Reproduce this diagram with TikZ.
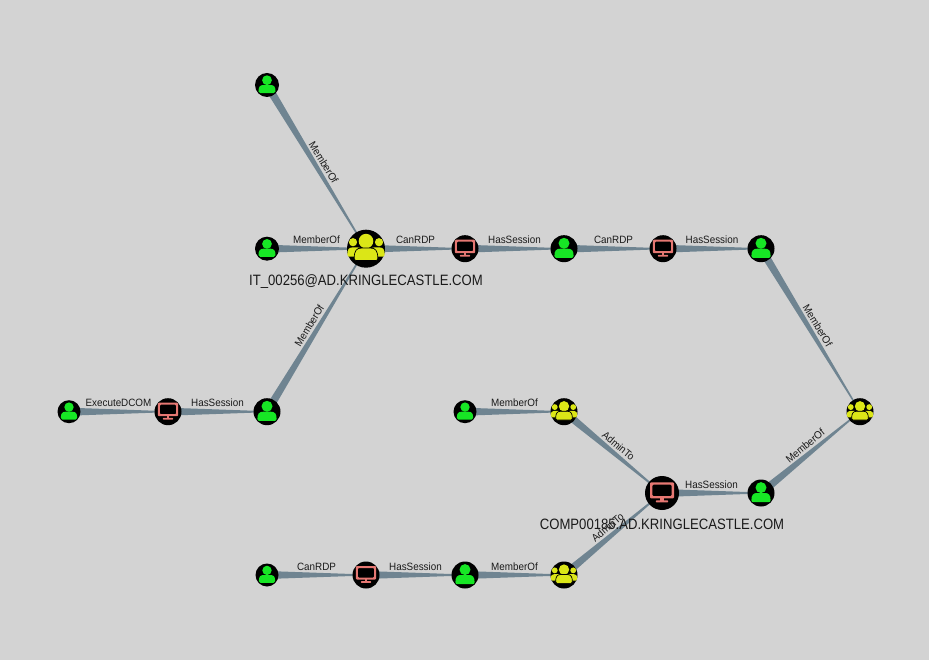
\documentclass[tikz,border=0pt]{standalone}
\usepackage{fontspec}
\setmainfont{Liberation Sans}
\newfontfamily\narrowlab[FakeStretch=0.93]{Liberation Sans}
\newfontfamily\narrowbig[FakeStretch=0.875]{Liberation Sans}
\usetikzlibrary{calc}
\definecolor{bgc}{HTML}{D3D3D3}
\definecolor{edgec}{HTML}{6F8491}
\definecolor{userc}{HTML}{17E625}
\definecolor{groupc}{HTML}{DBE617}
\definecolor{compc}{HTML}{E67873}
\definecolor{textc}{HTML}{1A1A1A}
\newcommand{\bodypath}[4]{% cx, top, halfwidth, bottom
  ({#1-#3},{#4-2}) .. controls ({#1-#3},{#2+.2*(#4-#2)}) and ({#1-.8*#3},#2) .. ({#1-.4*#3},#2) -- ({#1+.4*#3},#2) .. controls ({#1+.8*#3},#2) and ({#1+#3},{#2+.2*(#4-#2)}) .. ({#1+#3},{#4-2}) .. controls ({#1+#3},{#4-.7}) and ({#1+#3-1},#4) .. ({#1+#3-2},#4) -- ({#1-#3+2},#4) .. controls ({#1-#3+1},#4) and ({#1-#3},{#4-.7}) .. ({#1-#3},{#4-2}) -- cycle}
\tikzset{
  x=1pt,y=-1pt,
  dot/.style={circle,inner sep=0pt,minimum size=#1},
  edgelab/.style={sloped,above,inner sep=4.4pt,text=textc,font=\narrowlab\fontsize{10.6}{12}\selectfont},
  biglab/.style={inner sep=0pt,text=textc,font=\narrowbig\fontsize{15}{17}\selectfont},
  usericon/.pic={
    \fill[userc] (0,-5.4) circle[radius=5.5];
    \fill[userc] \bodypath{0}{0}{9.6}{9.2};
  },
  groupicon/.pic={
    \fill[groupc] (-13,-6.5) circle[radius=4.1] (13,-6.5) circle[radius=4.1];
    \fill[groupc] \bodypath{-11}{-1.2}{7.6}{8} \bodypath{11}{-1.2}{7.6}{8};
    \fill[groupc] (0,-7.6) circle[radius=7.3];
    \filldraw[groupc,draw=black,line width=.7pt] \bodypath{0}{-.6}{11.8}{11.8};
  },
  compicon/.pic={
    \fill[compc,even odd rule,rounded corners=1pt] (-12,-10.7) rectangle (12,5.4) (-9.6,-8.3) rectangle (9.6,3);
    \fill[compc] (-1.6,5) rectangle (1.6,8);
    \fill[compc,rounded corners=.6pt] (-6.2,7.4) rectangle (6.2,9.3);
  },
}
\newcommand{\wedgeedge}[3]{%
  \fill[edgec] ($(#1.center)!4pt!90:(#2.center)$) -- ($(#1.center)!4pt!-90:(#2.center)$)
     -- ($(#2.center)!.5pt!90:(#1.center)$) -- ($(#2.center)!.5pt!-90:(#1.center)$) -- cycle;
  \path (#1.center) -- node[edgelab]{#3} (#2.center);}
\begin{document}
\begin{tikzpicture}
\useasboundingbox (0,0) rectangle (929,660);
\fill[bgc] (0,0) rectangle (929,660);
% named node positions; discs and icons are painted after the edges
\node[dot=24pt] (u1) at (267,85) {};
\node[dot=24pt] (u2) at (267,248.7) {};
\node[dot=27pt] (u3) at (267,411.7) {};
\node[dot=23pt] (u4) at (69,411.7) {};
\node[dot=23pt] (u5) at (465,411.7) {};
\node[dot=23pt] (u6) at (267,575) {};
\node[dot=27pt] (u7) at (465,575) {};
\node[dot=27pt] (u8) at (564,248.7) {};
\node[dot=27pt] (u9) at (761,248.7) {};
\node[dot=27pt] (u10) at (761,493) {};
\node[dot=27pt] (c1) at (465,248.7) {};
\node[dot=27pt] (c2) at (663,248.7) {};
\node[dot=27pt] (c3) at (168,411.7) {};
\node[dot=27pt] (c4) at (366,575) {};
\node[dot=34pt] (c5) at (662,493) {};
\node[dot=38pt] (g1) at (366,248.7) {};
\node[dot=27pt] (g2) at (564,411.7) {};
\node[dot=27pt] (g3) at (564,575) {};
\node[dot=27pt] (g4) at (860,411.7) {};
% edges
\wedgeedge{u1}{g1}{MemberOf}
\wedgeedge{u2}{g1}{MemberOf}
\wedgeedge{u3}{g1}{MemberOf}
\wedgeedge{g1}{c1}{CanRDP}
\wedgeedge{c1}{u8}{HasSession}
\wedgeedge{u8}{c2}{CanRDP}
\wedgeedge{c2}{u9}{HasSession}
\wedgeedge{u9}{g4}{MemberOf}
\wedgeedge{u10}{g4}{MemberOf}
\wedgeedge{c5}{u10}{HasSession}
\wedgeedge{g2}{c5}{AdminTo}
\wedgeedge{g3}{c5}{AdminTo}
\wedgeedge{u7}{g3}{MemberOf}
\wedgeedge{c4}{u7}{HasSession}
\wedgeedge{u6}{c4}{CanRDP}
\wedgeedge{u5}{g2}{MemberOf}
\wedgeedge{u4}{c3}{ExecuteDCOM}
\wedgeedge{c3}{u3}{HasSession}
% visible discs and icons
\foreach \n/\d in {u1/24,u2/24,u3/27,u4/23,u5/23,u6/23,u7/27,u8/27,u9/27,u10/27}{
  \fill[black] (\n.center) circle[radius=\d/2];
  \pic[scale=\d/27] at (\n.center) {usericon};}
\foreach \n/\d in {c1/27,c2/27,c3/27,c4/27}{
  \fill[black] (\n.center) circle[radius=\d/2];
  \pic[scale=.84] at (\n.center) {compicon};}
\fill[black] (c5.center) circle[radius=17];
\pic at (c5.center) {compicon};
\foreach \n/\d in {g1/38,g2/27,g3/27,g4/27}{
  \fill[black] (\n.center) circle[radius=\d/2];
  \pic[scale=\d/38] at (\n.center) {groupicon};}
% big labels
\node[biglab] (lg) at (366,281.5) {IT\_00256@AD.KRINGLECASTLE.COM};
\node[biglab] (lc) at (662,524.5) {COMP00185.AD.KRINGLECASTLE.COM};
\end{tikzpicture}
\end{document}
